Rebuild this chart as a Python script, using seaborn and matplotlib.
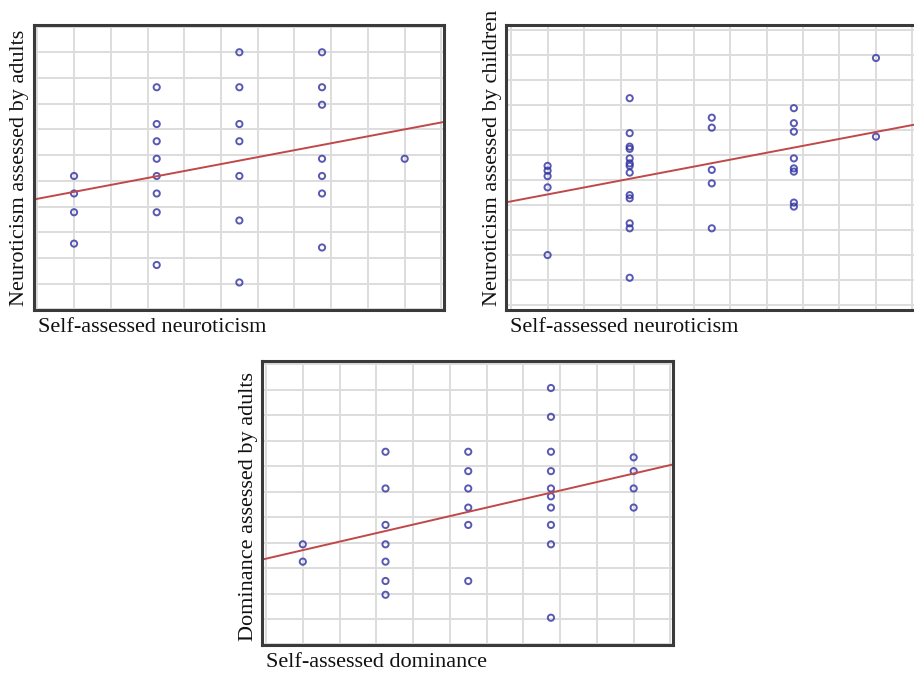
import numpy as np
import pandas as pd
import matplotlib
matplotlib.use('Agg')
import matplotlib.pyplot as plt
import seaborn as sns

# ------------------------------------------------------------
# data (self-assessment levels on x)
# ------------------------------------------------------------
self_levels = [1.0, 3.25, 5.5, 7.75, 10.0]

neuro_by_adults = [
    [5.19, 4.51, 3.78, 2.56],
    [8.64, 7.21, 6.54, 5.86, 5.19, 4.51, 3.78, 1.73],
    [10.0, 8.64, 7.21, 6.54, 5.19, 3.46, 1.05],
    [10.0, 8.64, 7.96, 5.86, 5.19, 4.51, 2.41],
    [5.86],
]

neuro_by_children = [
    [5.57, 5.38, 5.16, 4.71, 2.0],
    [8.28, 6.88, 6.34, 6.25, 5.87, 5.67, 5.57, 5.30, 4.40, 4.27, 3.27, 3.07, 1.09],
    [7.50, 7.10, 5.41, 4.87, 3.07],
    [7.88, 7.28, 6.94, 5.87, 5.47, 5.34, 4.10, 3.94],
    [9.89, 6.74],
]

dominance_by_adults = [
    [3.93, 3.25],
    [7.56, 6.12, 4.69, 3.93, 3.25, 2.49, 1.95],
    [7.56, 6.80, 6.12, 5.37, 4.69, 2.49],
    [10.06, 8.93, 7.56, 6.80, 6.12, 5.81, 5.37, 4.69, 3.93, 1.05],
    [7.34, 6.80, 6.12, 5.37],
]

panels = [
    ("Self-assessed neuroticism", "Neuroticism assessed by adults", neuro_by_adults),
    ("Self-assessed neuroticism", "Neuroticism assessed by children", neuro_by_children),
    ("Self-assessed dominance", "Dominance assessed by adults", dominance_by_adults),
]


def to_frame(levels, groups):
    rows = [(lv, v) for lv, g in zip(levels, groups) for v in g]
    return pd.DataFrame(rows, columns=["self", "other"])


sns.set_theme(style="whitegrid")
plt.rcParams['font.family'] = ['Liberation Serif', 'DejaVu Serif']

W, H = 914, 677
fig = plt.figure(figsize=(W / 100, H / 100), dpi=100)

# axes boxes in pixels: left, top, right, bottom
boxes = [(34, 25, 444, 310), (506, 25, 915, 310), (262, 361, 673, 645)]
limits = [((-0.09, 11.07), (-0.02, 11.06)),
          ((-0.14, 11.07), (-0.20, 11.21)),
          ((-0.11, 11.07), (-0.02, 11.12))]

for (xlab, ylab, groups), (l, t, r, b), (xl, yl) in zip(panels, boxes, limits):
    ax = fig.add_axes([l / W, 1 - b / H, (r - l) / W, (b - t) / H])
    ax.set_xlim(xl)
    ax.set_ylim(yl)
    df = to_frame(self_levels, groups)
    sns.regplot(data=df, x="self", y="other", ax=ax, ci=None, truncate=False,
                scatter_kws=dict(s=20, facecolors="none", edgecolors="#3030a0", linewidths=1.4),
                line_kws=dict(color="#c04848", linewidth=1.4))
    ax.set_xlim(xl)
    ax.set_ylim(yl)
    ax.set_xticks(np.arange(0, 12))
    ax.set_yticks(np.arange(0, 12))
    ax.tick_params(length=0, labelbottom=False, labelleft=False)
    ax.grid(True, color="#dddddd", linewidth=1.4)
    ax.set_xlabel("")
    ax.set_ylabel("")
    for sp in ax.spines.values():
        sp.set_color("#3a3a3a")
        sp.set_linewidth(2.2)
    if r > W:
        ax.spines["right"].set_visible(False)

    fig.text((l + 4) / W, 1 - (b + 8) / H, xlab, ha="left", va="top",
             fontsize=16, color="#111111")
    fig.text((l - 14) / W, 1 - (b - 4) / H, ylab, ha="center", va="bottom",
             rotation=90, fontsize=16, color="#111111")

fig.savefig("out.png", dpi=100, facecolor="white")
